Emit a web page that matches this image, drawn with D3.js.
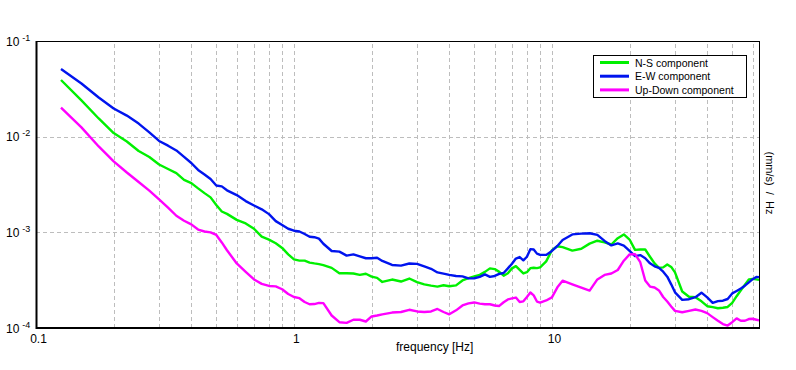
<!DOCTYPE html>
<html>
<head>
<meta charset="utf-8">
<script src="https://cdn.jsdelivr.net/npm/d3@7"></script>
<style>
  body { margin: 0; background: #fff; }
  text { font-family: "Liberation Sans", Arial, sans-serif; }
</style>
</head>
<body>
<svg id="spectrum_chart"></svg>
<script>
// frequencies (Hz) at which the three spectra were read
var freqs = [0.125, 0.15, 0.175, 0.2, 0.225, 0.25, 0.275, 0.3, 0.325, 0.35, 0.375, 0.4, 0.425, 0.45, 0.475,
  0.5, 0.525, 0.55, 0.6, 0.65, 0.7, 0.75, 0.8, 0.85, 0.9, 0.95, 1.0, 1.05, 1.1, 1.15, 1.2, 1.25, 1.3,
  1.4, 1.5, 1.6, 1.7, 1.8, 1.9, 2.0, 2.1, 2.2, 2.4, 2.6, 2.8, 3.0, 3.2, 3.4, 3.6, 3.8, 4.0, 4.25, 4.5,
  4.75, 5.0, 5.25, 5.5, 5.75, 6.0, 6.25, 6.5, 6.75, 7.0, 7.25, 7.5, 7.75, 8.0, 8.25, 8.5, 8.75, 9.0,
  9.5, 10, 10.5, 11, 12, 13, 14, 15, 16, 17, 18, 19, 20, 21, 22, 23, 24, 25, 26, 27, 28, 29, 30, 32,
  34, 36, 38, 40, 42, 44, 46, 48, 50, 52, 54, 56, 58, 60, 62, 63.5];

var nsValues = [0.0391, 0.0239, 0.0155, 0.0109, 0.00891, 0.00709, 0.00614, 0.00512, 0.00459, 0.00416,
  0.00353, 0.00327, 0.00288, 0.00257, 0.00232, 0.00193, 0.00165, 0.00156, 0.00135, 0.00124, 0.00109,
  0.000902, 0.000839, 0.000769, 0.000687, 0.000588, 0.000521, 0.000506, 0.000506, 0.000483, 0.000473,
  0.000465, 0.000454, 0.000425, 0.000374, 0.000374, 0.000371, 0.000359, 0.000369, 0.000344, 0.000334,
  0.000303, 0.000321, 0.000306, 0.000329, 0.000302, 0.000286, 0.000277, 0.000271, 0.000280, 0.000273,
  0.000279, 0.000314, 0.000332, 0.000346, 0.000359, 0.000386, 0.000420, 0.000413, 0.000386, 0.000352,
  0.000374, 0.000420, 0.000443, 0.000405, 0.000372, 0.000383, 0.000422, 0.000426, 0.000423, 0.000430,
  0.000497, 0.000649, 0.000716, 0.000700, 0.000645, 0.000674, 0.000762, 0.000817, 0.000784, 0.000746,
  0.000868, 0.000951, 0.000841, 0.000655, 0.000661, 0.000661, 0.000556, 0.000473, 0.000425, 0.000430,
  0.000462, 0.000435, 0.000381, 0.000241, 0.000212, 0.000210, 0.000190, 0.000169, 0.000165, 0.000161,
  0.000163, 0.000166, 0.000183, 0.000215, 0.000248, 0.000283, 0.000322, 0.000326, 0.000322, 0.000318];

var ewValues = [0.0510, 0.0360, 0.0257, 0.0197, 0.0166, 0.0137, 0.0111, 0.00902, 0.00805, 0.00718,
  0.00614, 0.00531, 0.00449, 0.00403, 0.00361, 0.00309, 0.00302, 0.00275, 0.00245, 0.00212, 0.00191,
  0.00174, 0.00155, 0.00131, 0.00119, 0.00109, 0.00104, 0.00102, 0.000960, 0.000900, 0.000889,
  0.000859, 0.000760, 0.000638, 0.000629, 0.000571, 0.000588, 0.000560, 0.000536, 0.000536, 0.000543,
  0.000502, 0.000456, 0.000449, 0.000472, 0.000468, 0.000440, 0.000416, 0.000381, 0.000370, 0.000359,
  0.000350, 0.000346, 0.000330, 0.000331, 0.000342, 0.000363, 0.000342, 0.000350, 0.000368, 0.000376,
  0.000420, 0.000470, 0.000532, 0.000552, 0.000510, 0.000556, 0.000667, 0.000661, 0.000599, 0.000581,
  0.000581, 0.000639, 0.000721, 0.000833, 0.000951, 0.000969, 0.000979, 0.000939, 0.000813, 0.000730,
  0.000767, 0.000728, 0.000639, 0.000564, 0.000578, 0.000536, 0.000474, 0.000442, 0.000425, 0.000388,
  0.000344, 0.000286, 0.000236, 0.000197, 0.000200, 0.000210, 0.000234, 0.000209, 0.000183, 0.000191,
  0.000193, 0.000201, 0.000230, 0.000244, 0.000259, 0.000277, 0.000300, 0.000324, 0.000342, 0.000340];

var udValues = [0.0201, 0.0125, 0.00790, 0.00551, 0.00422, 0.00336, 0.00273, 0.00221, 0.00181, 0.00149,
  0.00132, 0.00121, 0.00107, 0.00102, 0.00100, 0.000939, 0.000784, 0.000650, 0.000473, 0.000386,
  0.000322, 0.000289, 0.000275, 0.000272, 0.000254, 0.000227, 0.000211, 0.000205, 0.000187, 0.000177,
  0.000178, 0.000183, 0.000182, 0.000135, 0.000115, 0.000113, 0.000122, 0.000122, 0.000117, 0.000132,
  0.000135, 0.000139, 0.000145, 0.000147, 0.000155, 0.000149, 0.000147, 0.000149, 0.000158, 0.000147,
  0.000139, 0.000153, 0.000172, 0.000181, 0.000185, 0.000180, 0.000177, 0.000177, 0.000172, 0.000170,
  0.000186, 0.000199, 0.000204, 0.000208, 0.000187, 0.000190, 0.000211, 0.000235, 0.000219, 0.000189,
  0.000184, 0.000194, 0.000209, 0.000266, 0.000312, 0.000286, 0.000264, 0.000246, 0.000322, 0.000359,
  0.000371, 0.000404, 0.000505, 0.000588, 0.000592, 0.000487, 0.000314, 0.000271, 0.000265, 0.000247,
  0.000211, 0.000189, 0.000168, 0.000151, 0.000146, 0.000151, 0.000156, 0.000151, 0.000143, 0.000130,
  0.000119, 0.000110, 0.000106, 0.000115, 0.000126, 0.000119, 0.000119, 0.000124, 0.000125, 0.000122,
  0.000120];

var seriesNames = ["N-S component", "E-W component", "Up-Down component"];
var seriesColors = ["#00f000", "#0014ee", "#ff00ff"];
var xTickValues = [0.1, 1, 10];
var yTickExponents = [-1, -2, -3, -4];

var series = [nsValues, ewValues, udValues].map(function(vals, i) {
  return { name: seriesNames[i], color: seriesColors[i],
           points: freqs.map(function(f, j) { return { f: f, v: vals[j] }; }) };
});

// set the dimensions and margins of the graph
var margin = {top: 41, right: 37, bottom: 42, left: 36},
  width = 796 - margin.left - margin.right,
  height = 370 - margin.top - margin.bottom;

var svg = d3.select("#spectrum_chart")
  .attr("width", 796)
  .attr("height", 370);

var g = svg.append("g")
  .attr("transform", "translate(" + margin.left + "," + margin.top + ")");

// log scales on both axes
var x = d3.scaleLog().domain([0.1, 63.5]).range([0, width]);
var y = d3.scaleLog().domain([1e-4, 1e-1]).range([height, 0]);

// vertical grid at every 1..9 multiple
g.append("g")
  .selectAll("line")
  .data(x.ticks().filter(function(d) { return d > 0.1; }))
  .enter()
  .append("line")
  .attr("x1", function(d) { return Math.round(x(d)) + 0.5; })
  .attr("x2", function(d) { return Math.round(x(d)) + 0.5; })
  .attr("y1", height)
  .attr("y2", 0)
  .attr("stroke", "#bdbdbd")
  .attr("stroke-dasharray", "4,3");

// horizontal grid at decades only
g.append("g")
  .selectAll("line")
  .data([1e-2, 1e-3])
  .enter()
  .append("line")
  .attr("x1", 0)
  .attr("x2", width)
  .attr("y1", function(d) { return Math.round(y(d)) + 0.5; })
  .attr("y2", function(d) { return Math.round(y(d)) + 0.5; })
  .attr("stroke", "#bdbdbd")
  .attr("stroke-dasharray", "4,3");

// the three spectra
var line = d3.line()
  .x(function(d) { return x(d.f); })
  .y(function(d) { return y(d.v); });

g.selectAll("path.spec")
  .data(series)
  .enter()
  .append("path")
  .attr("class", "spec")
  .attr("fill", "none")
  .attr("stroke", function(d) { return d.color; })
  .attr("stroke-width", 2.4)
  .attr("stroke-linejoin", "round")
  .attr("d", function(d) { return line(d.points); });

// frame
g.append("rect")
  .attr("x", 0.5).attr("y", 0.5)
  .attr("width", width).attr("height", height)
  .attr("fill", "none")
  .attr("stroke", "#000");
g.append("line").attr("x1", 0.5).attr("x2", 0.5).attr("y1", 0).attr("y2", height + 1)
  .attr("stroke", "#000").attr("stroke-width", 2);
g.append("line").attr("x1", 0).attr("x2", width + 1).attr("y1", height).attr("y2", height)
  .attr("stroke", "#000").attr("stroke-width", 2);

// x axis labels
var xAxis = g.append("g")
  .attr("transform", "translate(0," + height + ")")
  .call(d3.axisBottom(x).tickValues(xTickValues).tickSize(0).tickPadding(6)
    .tickFormat(function(d) { return d3.format("~g")(d); }));
xAxis.select(".domain").remove();
xAxis.selectAll("text")
  .attr("font-size", "12px")
  .attr("font-family", "Liberation Sans, Arial, sans-serif")
  .attr("fill", "#000")
  .attr("dx", 2);

// y axis labels, 10 with superscript exponent
var yLabels = svg.append("g")
  .selectAll("text")
  .data(yTickExponents)
  .enter()
  .append("text")
  .attr("x", 6)
  .attr("y", function(d) { return margin.top + y(Math.pow(10, d)) + 4.5; })
  .attr("font-size", "12px")
  .attr("fill", "#000");
yLabels.append("tspan").text("10");
yLabels.append("tspan")
  .attr("dx", 3)
  .attr("dy", -5)
  .attr("font-size", "9px")
  .text(function(d) { return d; });

// axis titles
svg.append("text")
  .attr("x", 396)
  .attr("y", 351)
  .attr("font-size", "12px")
  .text("frequency [Hz]");

svg.append("text")
  .attr("transform", "translate(766,183) rotate(90)")
  .attr("text-anchor", "middle")
  .attr("font-size", "11px")
  .style("white-space", "pre")
  .text("(mm/s)  /  Hz");

// legend
var legend = svg.append("g").attr("transform", "translate(593.5,55.5)");
legend.append("rect")
  .attr("width", 153).attr("height", 42)
  .attr("fill", "#fff").attr("stroke", "#000");
var rows = legend.selectAll("g.row")
  .data(series)
  .enter()
  .append("g")
  .attr("class", "row")
  .attr("transform", function(d, i) { return "translate(0," + (7 + i * 13.7) + ")"; });
rows.append("line")
  .attr("x1", 6.5).attr("x2", 35.5)
  .attr("stroke", function(d) { return d.color; })
  .attr("stroke-width", 3);
rows.append("text")
  .attr("x", 41.5)
  .attr("y", 4)
  .attr("font-size", "10.5px")
  .text(function(d) { return d.name; });
</script>
</body>
</html>
